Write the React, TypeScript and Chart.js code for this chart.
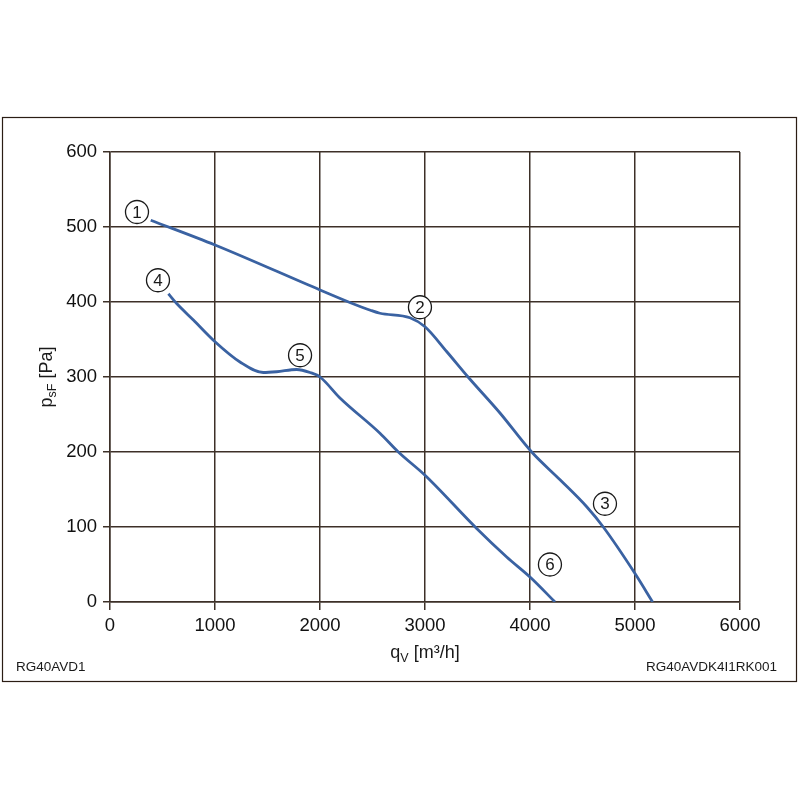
import React, { useEffect, useRef } from "react";
import { Chart, registerables } from "chart.js";

Chart.register(...registerables);

const flowA = [388, 1000, 2000, 2290, 2480, 2571, 2857, 3000, 3206, 3410, 3714, 4016, 4286, 4540, 4698, 5000, 5168];
const pressA = [509, 476, 416, 399, 389, 385, 379, 367, 334, 300, 252, 200, 163, 127, 100, 38, 0];

const flowB = [556, 635, 794, 1000, 1238, 1460, 1587, 1778, 1905, 2000, 2190, 2571, 2746, 3000, 3492, 3778, 4010, 4238];
const pressB = [411, 398, 376, 347, 320, 306, 307, 310, 306, 300, 272, 225, 200, 169, 98, 60, 32, 0];

const markerX = [257, 2952, 4714, 457, 1810, 4190];
const markerY = [520, 393, 131, 429, 329, 50];
const markerText = ["1", "2", "3", "4", "5", "6"];

const xTicks = [0, 1000, 2000, 3000, 4000, 5000, 6000];
const yTicks = [0, 100, 200, 300, 400, 500, 600];

const leftNote = "RG40AVD1";
const rightNote = "RG40AVDK4I1RK001";

const FONT = "'Liberation Sans', Arial, Helvetica, sans-serif";
const GRID = "#3d3028";
const LINE = "#3a62a2";

const extras = {
  id: "extras",
  afterDraw(chart: any) {
    const ctx = chart.ctx;
    const xs = chart.scales.x;
    const ys = chart.scales.y;
    ctx.save();
    // outer frame
    ctx.strokeStyle = "#2b1d14";
    ctx.lineWidth = 1.2;
    ctx.strokeRect(2.5, 117.5, 794, 564);

    // markers
    for (let i = 0; i < markerX.length; i++) {
      const px = xs.getPixelForValue(markerX[i]);
      const py = ys.getPixelForValue(markerY[i]);
      ctx.beginPath();
      ctx.arc(px, py, 11.5, 0, Math.PI * 2);
      ctx.fillStyle = "#ffffff";
      ctx.fill();
      ctx.lineWidth = 1.3;
      ctx.strokeStyle = "#1a1a1a";
      ctx.stroke();
      ctx.fillStyle = "#1a1a1a";
      ctx.font = `17px ${FONT}`;
      ctx.textAlign = "center";
      ctx.textBaseline = "middle";
      ctx.fillText(markerText[i], px, py + 1);
    }

    // x title: q_V [m³/h]
    ctx.fillStyle = "#1a1a1a";
    ctx.textBaseline = "alphabetic";
    ctx.textAlign = "left";
    const xMid = (chart.chartArea.left + chart.chartArea.right) / 2;
    const bigF = `18px ${FONT}`;
    const smallF = `12.5px ${FONT}`;
    ctx.font = bigF;
    const wq = ctx.measureText("q").width;
    const wr = ctx.measureText(" [m³/h]").width;
    ctx.font = smallF;
    const wv = ctx.measureText("V").width;
    let sx = xMid - (wq + wv + wr) / 2;
    const by = 658;
    ctx.font = bigF;
    ctx.fillText("q", sx, by);
    sx += wq;
    ctx.font = smallF;
    ctx.fillText("V", sx, by + 4);
    sx += wv;
    ctx.font = bigF;
    ctx.fillText(" [m³/h]", sx, by);

    // y title: p_sF [Pa]
    const yMid = (chart.chartArea.top + chart.chartArea.bottom) / 2;
    ctx.save();
    ctx.translate(52, yMid);
    ctx.rotate(-Math.PI / 2);
    ctx.font = bigF;
    const wp = ctx.measureText("p").width;
    const wpa = ctx.measureText(" [Pa]").width;
    ctx.font = smallF;
    const wsf = ctx.measureText("sF").width;
    let ty = -(wp + wsf + wpa) / 2;
    ctx.font = bigF;
    ctx.fillText("p", ty, 0);
    ty += wp;
    ctx.font = smallF;
    ctx.fillText("sF", ty, 4);
    ty += wsf;
    ctx.font = bigF;
    ctx.fillText(" [Pa]", ty, 0);
    ctx.restore();

    // notes
    ctx.font = `13.5px ${FONT}`;
    ctx.textBaseline = "middle";
    ctx.textAlign = "left";
    ctx.fillText(leftNote, 16, 667);
    ctx.textAlign = "right";
    ctx.fillText(rightNote, 777, 667);
    ctx.restore();
  },
};

export default function App() {
  const ref = useRef<HTMLCanvasElement | null>(null);
  useEffect(() => {
    if (!ref.current) return;
    const chart = new Chart(ref.current, {
      type: "line",
      data: {
        datasets: [
          {
            data: flowA.map((x, i) => ({ x, y: pressA[i] })),
            borderColor: LINE,
            borderWidth: 2.8,
            pointRadius: 0,
            cubicInterpolationMode: "monotone",
            fill: false,
          },
          {
            data: flowB.map((x, i) => ({ x, y: pressB[i] })),
            borderColor: LINE,
            borderWidth: 2.8,
            pointRadius: 0,
            cubicInterpolationMode: "monotone",
            fill: false,
          },
        ],
      },
      options: {
        responsive: false,
        animation: false,
        layout: { padding: { left: 0, top: 152, right: 60, bottom: 158 } },
        plugins: { legend: { display: false }, tooltip: { enabled: false } },
        scales: {
          x: {
            type: "linear",
            min: 0,
            max: 6000,
            afterFit: (s: any) => {
              s.height = 40;
            },
            afterBuildTicks: (s: any) => {
              s.ticks = xTicks.map((v) => ({ value: v }));
            },
            ticks: {
              color: "#111",
              font: { family: FONT, size: 18.5 },
              padding: 5,
              maxRotation: 0,
              callback: (v: any) => String(v),
            },
            grid: { color: GRID, lineWidth: 1.5, tickLength: 8 },
            border: { color: GRID, width: 1.5 },
          },
          y: {
            type: "linear",
            min: 0,
            max: 600,
            afterFit: (s: any) => {
              s.width = 110;
            },
            afterBuildTicks: (s: any) => {
              s.ticks = yTicks.map((v) => ({ value: v }));
            },
            ticks: {
              color: "#111",
              font: { family: FONT, size: 18.5 },
              padding: 6,
              callback: (v: any) => String(v),
            },
            grid: { color: GRID, lineWidth: 1.5, tickLength: 7 },
            border: { color: GRID, width: 1.5 },
          },
        },
      },
      plugins: [extras],
    } as any);
    return () => chart.destroy();
  }, []);
  return (
    <div style={{ position: "absolute", left: 0, top: 0, width: 800, height: 800, background: "#fff" }}>
      <canvas ref={ref} width={800} height={800} />
    </div>
  );
}
